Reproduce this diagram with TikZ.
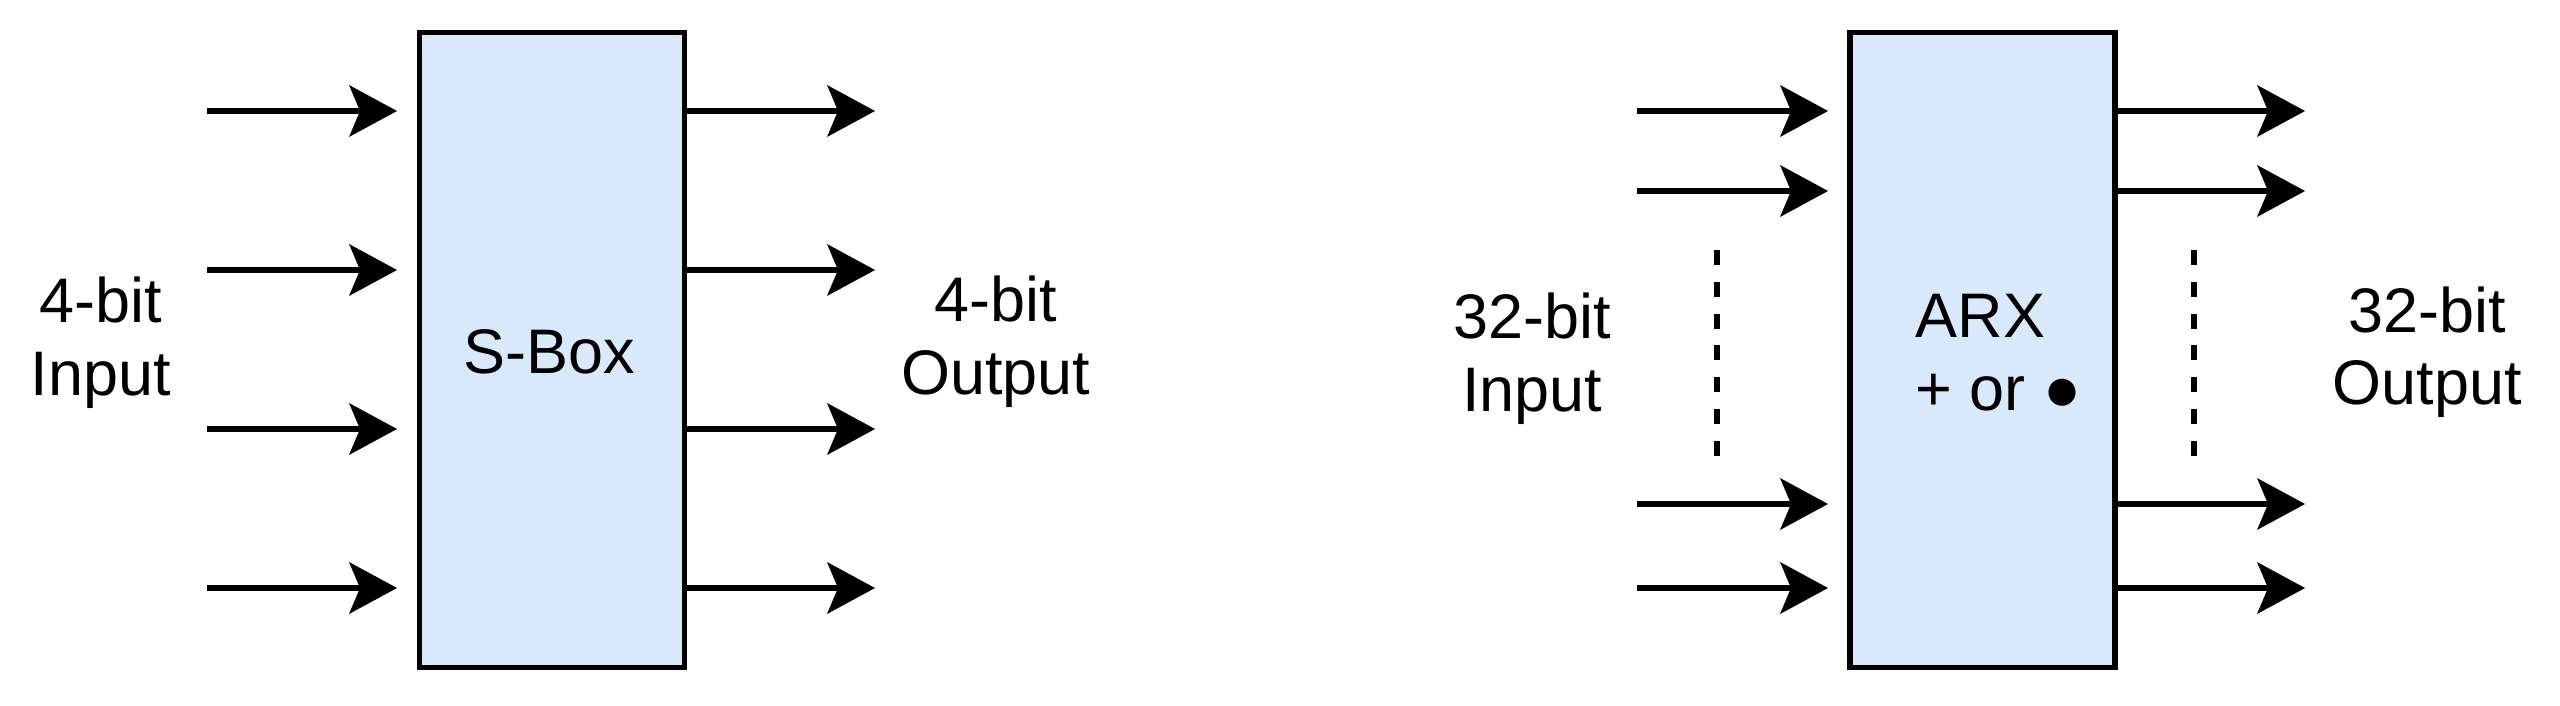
\documentclass[tikz,border=0pt]{standalone}
\usepackage{fontspec}
\setmainfont{Liberation Sans}
\usetikzlibrary{arrows.meta}
\definecolor{boxblue}{HTML}{DAE8FC}
\begin{document}
\begin{tikzpicture}[x=0.01cm,y=-0.01cm,
  arr/.style={line width=1.65pt, -{Stealth[length=0.48cm,width=0.52cm,inset=0.11cm,line width=0pt]}},
  blk/.style={draw, line width=1.65pt, fill=boxblue, minimum width=2.65cm, minimum height=6.345cm, inner sep=0pt},
  lbl/.style={inner sep=0pt, anchor=base, font=\fontsize{17.9pt}{20.8pt}\selectfont},
  dots/.style={line width=1.65pt, dash pattern=on 0.15cm off 0.168cm}]
\useasboundingbox (0,0) rectangle (2560,706);
% boxes
\node[blk] (sbox) at (552,350) {};
\node[blk] (arx) at (1982.5,350) {};
\node[lbl] (sboxt) at (549,373) {S-Box};
\node[lbl, anchor=base west] (arxa) at (1915,337) {ARX};
\node[lbl, anchor=base west] (arxb) at (1915,410) {+ or ●};
% labels
\node[lbl] (l1a) at (101,322) {4-bit};
\node[lbl] (l1b) at (101,395) {Input};
\node[lbl] (l2a) at (996,321) {4-bit};
\node[lbl] (l2b) at (996,394) {Output};
\node[lbl] (l3a) at (1532,338) {32-bit};
\node[lbl] (l3b) at (1532,411) {Input};
\node[lbl] (l4a) at (2427,332) {32-bit};
\node[lbl] (l4b) at (2427,404) {Output};
% left inputs
\foreach \i/\y in {1/111,2/270,3/429,4/588}{
  \coordinate (ls\i) at (207,\y);
  \coordinate (lt\i) at (397,\y);
  \coordinate (lo\i) at (875,\y);
  \draw[arr] (ls\i) -- (lt\i);
  \draw[arr] (sbox.east |- lo\i) -- (lo\i);
}
% right inputs
\foreach \i/\y in {1/111,2/191,3/504,4/588}{
  \coordinate (rs\i) at (1637,\y);
  \coordinate (rt\i) at (1828,\y);
  \coordinate (ro\i) at (2305,\y);
  \draw[arr] (rs\i) -- (rt\i);
  \draw[arr] (arx.east |- ro\i) -- (ro\i);
}
% dashed
\coordinate (d1a) at (1717,250);
\coordinate (d1b) at (1717,456);
\coordinate (d2a) at (2194,250);
\coordinate (d2b) at (2194,456);
\draw[dots] (d1a) -- (d1b);
\draw[dots] (d2a) -- (d2b);
\end{tikzpicture}
\end{document}
